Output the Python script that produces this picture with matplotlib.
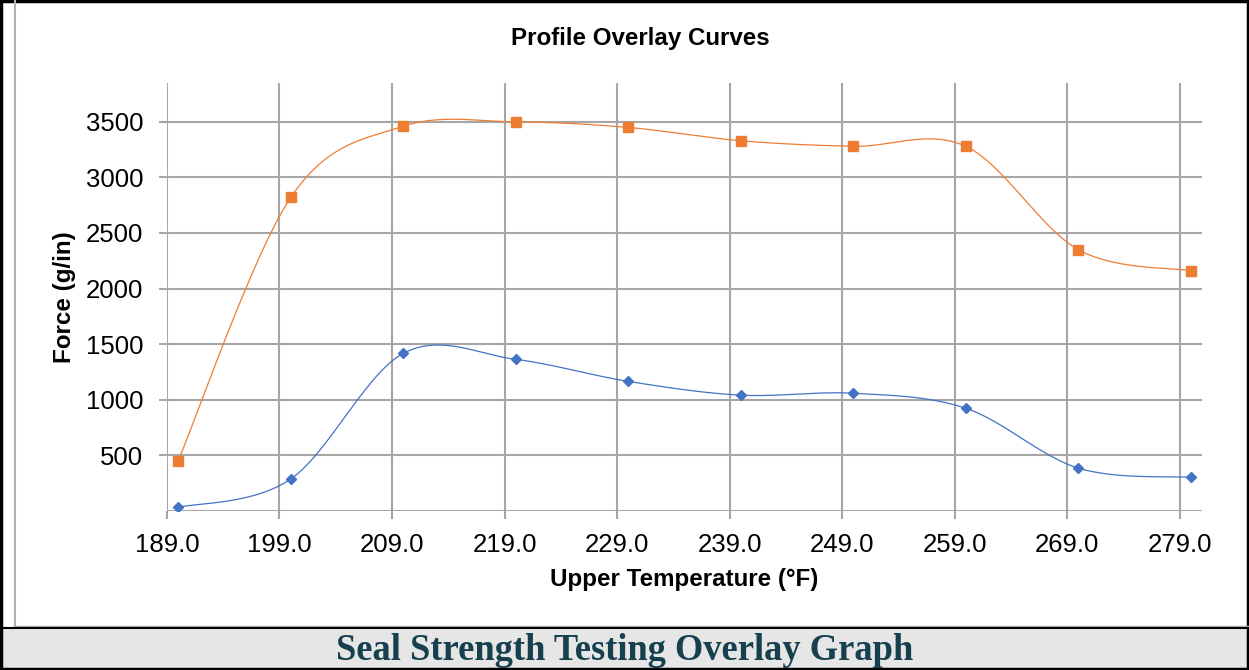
"""
Seal strength testing — profile overlay curves.
"""

import numpy as np
import matplotlib
matplotlib.use("Agg")
import matplotlib.pyplot as plt
from matplotlib.patches import Rectangle
from matplotlib.lines import Line2D

# data
temps = [190, 200, 210, 220, 230, 240, 250, 260, 270, 280]
force_upper = [450, 2820, 3460, 3500, 3450, 3330, 3280, 3280, 2350, 2160]
force_lower = [30, 285, 1416, 1362, 1164, 1040, 1057, 922, 383, 300]
x_ticks = [189, 199, 209, 219, 229, 239, 249, 259, 269, 279]
y_ticks = [500, 1000, 1500, 2000, 2500, 3000, 3500]

ORANGE = "#ED7D31"
BLUE = "#4472C4"
GRID = "#a6a6a6"

plt.rcParams["font.family"] = ["Liberation Sans", "DejaVu Sans"]


def smooth(x, y, n=30):
    """Catmull-Rom style smoothing, like a spreadsheet 'smoothed line'."""
    x = np.asarray(x, float)
    y = np.asarray(y, float)
    px = np.concatenate([[x[0]], x, [x[-1]]])
    py = np.concatenate([[y[0]], y, [y[-1]]])
    xs, ys = [], []
    for i in range(1, len(px) - 2):
        p0, p1, p2, p3 = (np.array([px[j], py[j]]) for j in range(i - 1, i + 3))
        c1 = p1 + (p2 - p0) / 6
        c2 = p2 - (p3 - p1) / 6
        t = np.linspace(0, 1, n)[:, None]
        pts = ((1 - t) ** 3) * p1 + 3 * ((1 - t) ** 2) * t * c1 + 3 * (1 - t) * t ** 2 * c2 + t ** 3 * p2
        xs.append(pts[:, 0])
        ys.append(pts[:, 1])
    return np.concatenate(xs), np.concatenate(ys)


W, H = 1249, 670
fig = plt.figure(figsize=(W / 100, H / 100), dpi=100)
ax = fig.add_axes([0.1337, 0.2378, 0.8287, 0.6383])

for yv, col, mk, ms in [(force_upper, ORANGE, "s", 7), (force_lower, BLUE, "D", 5)]:
    sx, sy = smooth(temps, yv)
    ax.plot(sx, sy, color=col, linewidth=0.9, zorder=3)
    ax.plot(temps, yv, linestyle="none", marker=mk, markersize=ms, color=col, zorder=4)

ax.set_xlim(189, 281)
ax.set_ylim(0, 3850)
ax.set_xticks(x_ticks)
ax.set_xticklabels([f"{v:.1f}" for v in x_ticks])
ax.set_yticks(y_ticks)
ax.grid(True, color=GRID, linewidth=1.5)
ax.set_axisbelow(True)
for s in ax.spines.values():
    s.set_visible(False)
ax.axhline(0, color=GRID, linewidth=1.5, zorder=1)
ax.tick_params(axis="both", length=6, width=1.5, color=GRID, labelsize=18.5)
ax.tick_params(axis="x", pad=10)
ax.tick_params(axis="y", pad=11)

ax.set_xlabel("Upper Temperature (°F)", fontsize=17.4, fontweight="bold", labelpad=8)
ax.set_ylabel("Force (g/in)", fontsize=17.4, fontweight="bold", labelpad=7)
fig.text(640 / W, 1 - 38 / H, "Profile Overlay Curves", ha="center", va="center",
         fontsize=17.4, fontweight="bold")

# frame and caption band
fig.add_artist(Rectangle((0, 2 / H), 1, 40 / H, transform=fig.transFigure,
                         facecolor="#e6e6e6", edgecolor="none"))
fig.add_artist(Line2D([15 / W, 15 / W], [44 / H, 1], transform=fig.transFigure,
                      color="#b0b0b0", linewidth=1.5))
fig.add_artist(Line2D([15 / W, 1], [44 / H, 44 / H], transform=fig.transFigure,
                      color="#b0b0b0", linewidth=1.0))
fig.add_artist(Line2D([0, 1], [42 / H, 42 / H], transform=fig.transFigure,
                      color="black", linewidth=1.5))
fig.add_artist(Rectangle((0.001, 0.002), 0.998, 0.996, transform=fig.transFigure,
                         facecolor="none", edgecolor="black", linewidth=2.5))
fig.text(0.5, 19 / H, "Seal Strength Testing Overlay Graph", ha="center", va="center",
         fontsize=26.3, fontweight="bold", color="#17404f",
         family=["Liberation Serif", "DejaVu Serif"])

fig.savefig("out.png", dpi=100)
